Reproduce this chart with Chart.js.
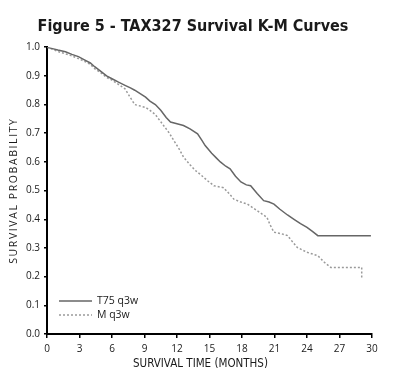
<!DOCTYPE html>
<html>
<head>
<meta charset="utf-8">
<script src="https://cdn.jsdelivr.net/npm/chart.js@4.4.0/dist/chart.umd.min.js"></script>
<style>
  html, body { margin: 0; padding: 0; background: #fff; }
  canvas { display: block; }
</style>
</head>
<body>
<canvas id="c" width="408" height="382"></canvas>
<script>
const titleText = "Figure 5 - TAX327 Survival K-M Curves";
const seriesLabels = ["T75 q3w", "M q3w"];
const xTicks = [0, 3, 6, 9, 12, 15, 18, 21, 24, 27, 30];
const yTicks = [0, 0.1, 0.2, 0.3, 0.4, 0.5, 0.6, 0.7, 0.8, 0.9, 1.0];

const t75Months = [0, 0.5, 1.0, 1.7, 2.3, 2.9, 3.5, 4.0, 4.4, 5.0, 5.5, 6.0, 6.6, 7.2, 7.7, 8.1, 8.6, 9.1, 9.5, 10.0,
  10.5, 11.0, 11.4, 12.0, 12.6, 13.2, 13.9, 14.3, 14.6, 15.2, 15.6, 16.0, 16.5, 16.9, 17.4, 17.9, 18.4, 18.8, 19.4,
  20.0, 20.5, 20.95, 21.5, 22.2, 22.8, 23.4, 24.0, 24.5, 25.0, 29.9];
const t75Surv = [1.0, 0.995, 0.99, 0.984, 0.975, 0.967, 0.955, 0.945, 0.932, 0.915, 0.90, 0.89, 0.878, 0.867, 0.858, 0.85, 0.838, 0.826, 0.812, 0.80,
  0.78, 0.755, 0.739, 0.733, 0.727, 0.715, 0.698, 0.675, 0.657, 0.63, 0.615, 0.60, 0.585, 0.576, 0.55, 0.53, 0.52, 0.517, 0.49,
  0.465, 0.46, 0.453, 0.435, 0.415, 0.40, 0.385, 0.372, 0.358, 0.343, 0.343];

const mMonths = [0, 0.5, 1.0, 1.7, 2.3, 2.9, 3.5, 4.0, 4.4, 5.0, 5.5, 6.0, 6.6, 7.2, 7.6, 8.1, 8.6, 9.1, 9.5, 10.0,
  10.5, 10.9, 11.3, 11.7, 12.2, 12.6, 13.2, 13.7, 14.2, 14.8, 15.4, 16.3, 16.8, 17.25, 17.9, 18.5, 19.4, 20.3, 20.6,
  20.95, 21.6, 22.2, 22.7, 23.1, 24.0, 25.0, 25.6, 26.2, 29.05, 29.05];
const mSurv = [1.0, 0.993, 0.985, 0.977, 0.97, 0.96, 0.95, 0.94, 0.925, 0.91, 0.895, 0.885, 0.87, 0.855, 0.83, 0.80, 0.795, 0.79, 0.78, 0.765,
  0.74, 0.72, 0.70, 0.675, 0.645, 0.617, 0.59, 0.57, 0.555, 0.535, 0.517, 0.51, 0.49, 0.47, 0.46, 0.453, 0.43, 0.407, 0.38,
  0.355, 0.35, 0.343, 0.32, 0.302, 0.285, 0.273, 0.25, 0.232, 0.232, 0.19];

const toPts = (xs, ys) => xs.map((x, i) => ({ x: x, y: ys[i] }));

const tickFont = { family: "'Open Sans', sans-serif", size: 10 };
const textColor = '#1a1a1a';

const insideLegend = {
  id: 'insideLegend',
  afterDraw(chart) {
    const { ctx, chartArea } = chart;
    chart.data.datasets.forEach((ds, i) => {
      const y = chartArea.bottom - 33 + i * 14;
      ctx.save();
      ctx.strokeStyle = ds.borderColor;
      ctx.lineWidth = ds.borderWidth;
      ctx.setLineDash(ds.borderDash || []);
      ctx.beginPath();
      ctx.moveTo(chartArea.left + 12, y);
      ctx.lineTo(chartArea.left + 45, y);
      ctx.stroke();
      ctx.setLineDash([]);
      ctx.fillStyle = textColor;
      ctx.font = "10.5px 'Open Sans', sans-serif";
      ctx.textBaseline = 'middle';
      ctx.textAlign = 'left';
      ctx.fillText(ds.label, chartArea.left + 50, y + 0.5);
      ctx.restore();
    });
  }
};

const titleTweaks = {
  id: 'titleTweaks',
  beforeDraw(chart) {
    const ys = chart.scales.y, xs = chart.scales.x, tb = chart.titleBlock;
    if (ys && !ys._lsPatched) {
      const orig = ys.drawTitle;
      ys.drawTitle = function () {
        const c = this.ctx; c.save(); c.letterSpacing = '1.6px'; orig.apply(this, arguments); c.restore();
      };
      ys._lsPatched = true;
    }
    if (xs && !xs._shPatched) {
      const origx = xs.drawTitle;
      xs.drawTitle = function () {
        const c = this.ctx; c.save(); c.translate(-9, 0); origx.apply(this, arguments); c.restore();
      };
      xs._shPatched = true;
    }
    if (tb && !tb._shPatched) {
      const origt = tb.draw;
      tb.draw = function () {
        const c = this.ctx; c.save(); c.translate(7, 0); origt.apply(this, arguments); c.restore();
      };
      tb._shPatched = true;
    }
  }
};

new Chart(document.getElementById('c'), {
  type: 'line',
  data: {
    datasets: [
      {
        label: seriesLabels[0],
        data: toPts(t75Months, t75Surv),
        borderColor: '#666666',
        borderWidth: 1.5,
        pointRadius: 0,
        tension: 0,
        fill: false
      },
      {
        label: seriesLabels[1],
        data: toPts(mMonths, mSurv),
        borderColor: '#9a9a9a',
        borderWidth: 1.5,
        borderDash: [2, 2],
        pointRadius: 0,
        tension: 0,
        fill: false
      }
    ]
  },
  options: {
    responsive: false,
    animation: false,
    layout: { padding: { left: 0, right: 36, top: 0, bottom: 0 } },
    plugins: {
      legend: { display: false },
      tooltip: { enabled: false },
      title: {
        display: true,
        text: titleText,
        color: '#1a1a1a',
        font: { family: "'Liberation Sans Narrow', 'DejaVu Sans Condensed', sans-serif", size: 16, weight: 'bold' },
        padding: { top: 17, bottom: 11 }
      }
    },
    scales: {
      x: {
        type: 'linear',
        min: 0,
        max: 30,
        afterBuildTicks(s) { s.ticks = xTicks.map(v => ({ value: v })); },
        afterFit(s) { s.height = 48; },
        ticks: { font: tickFont, color: textColor, padding: 5, maxRotation: 0, callback: v => String(v) },
        grid: { display: true, drawOnChartArea: false, drawTicks: true, tickLength: 4, color: '#000', lineWidth: 1.5 },
        border: { display: true, color: '#000', width: 2 },
        title: {
          display: true,
          text: 'SURVIVAL TIME (MONTHS)',
          color: textColor,
          font: { family: "'Liberation Sans Narrow', 'DejaVu Sans Condensed', sans-serif", size: 11.5 },
          padding: { top: 0, bottom: 11 }
        }
      },
      y: {
        type: 'linear',
        min: 0,
        max: 1,
        afterBuildTicks(s) { s.ticks = yTicks.map(v => ({ value: v })); },
        afterFit(s) { s.width = 47; },
        ticks: { font: tickFont, color: textColor, padding: 4, callback: v => Number(v).toFixed(1) },
        grid: { display: true, drawOnChartArea: false, drawTicks: true, tickLength: 3, color: '#000', lineWidth: 1.5 },
        border: { display: true, color: '#000', width: 2 },
        title: {
          display: true,
          text: 'SURVIVAL PROBABILITY',
          color: textColor,
          font: { family: "'Open Sans', sans-serif", size: 10.5 },
          padding: { top: 8, bottom: 0 }
        }
      }
    }
  },
  plugins: [insideLegend, titleTweaks]
});
</script>
</body>
</html>
